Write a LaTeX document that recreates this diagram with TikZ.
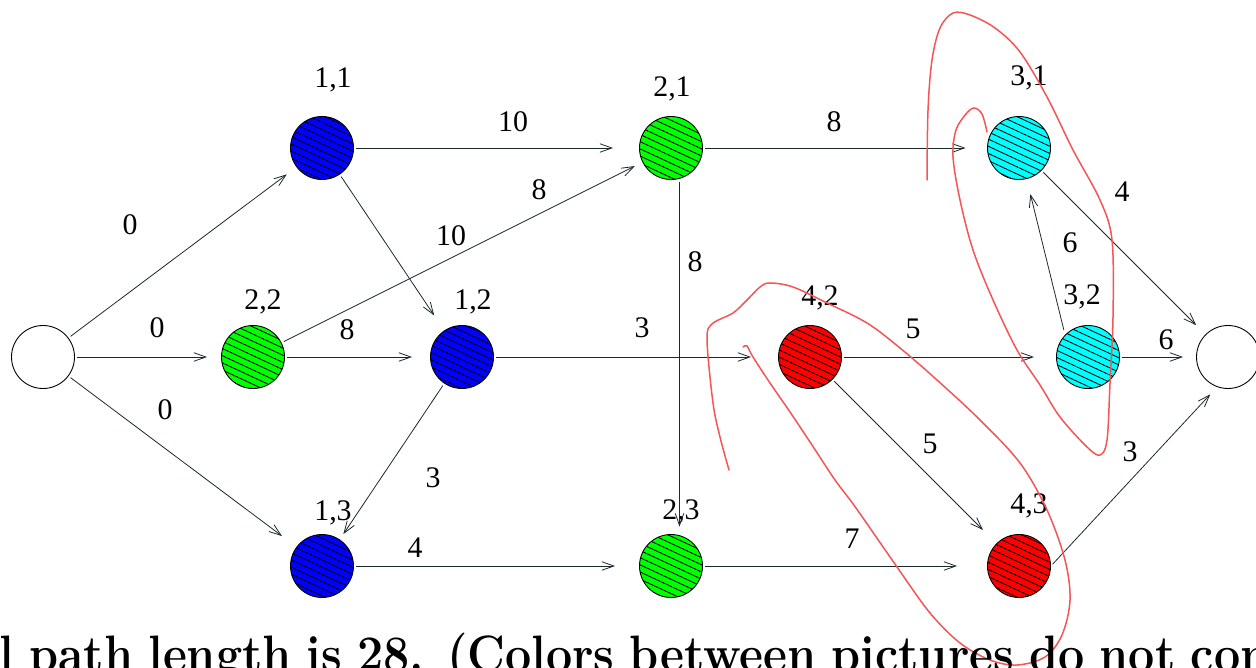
\documentclass[tikz,border=0pt]{standalone}
\usepackage{fontspec}
\newfontfamily\labelfont{Liberation Serif}
\usetikzlibrary{arrows.meta,patterns.meta}
\definecolor{fillblue}{RGB}{0,0,255}
\definecolor{fillgreen}{RGB}{0,255,0}
\definecolor{fillcyan}{RGB}{0,255,255}
\definecolor{fillred}{RGB}{255,0,0}
\definecolor{edgegray}{RGB}{25,40,40}
\definecolor{loopred}{RGB}{245,85,85}
\tikzset{
  vertex/.style   = {circle, draw, line width=0.5pt, inner sep=0pt, minimum size=12.6mm},
  hatched/.style  = {vertex, preaction={fill=#1},
                     pattern={Lines[angle=-25,distance=1.3mm,line width=0.5pt]}},
  arcline/.style  = {-{Straight Barb[length=2.4mm,width=1.7mm]}, line width=0.45pt,
                     draw=edgegray, shorten <=0.5mm},
  vlabel/.style   = {font=\labelfont\fontsize{17}{20}\selectfont, inner sep=0pt},
  loopline/.style = {draw=loopred, line width=0.3mm, line cap=round},
}

\begin{document}
\begin{tikzpicture}[x=0.2mm,y=-0.2mm]
  \useasboundingbox (0,0) rectangle (1256,668);

  % ---- vertices ----------------------------------------------------------
  \node[vertex] (s) at (43,357) {};
  \node[hatched=fillblue]  (n11) at (322,148) {};
  \node[hatched=fillgreen] (n22) at (253,357) {};
  \node[hatched=fillblue]  (n12) at (462,357) {};
  \node[hatched=fillblue]  (n13) at (322,566) {};
  \node[hatched=fillgreen] (n21) at (671,148) {};
  \node[hatched=fillgreen] (n23) at (671,566) {};
  \node[hatched=fillred]   (n42) at (810,357) {};
  \node[hatched=fillcyan]  (n31) at (1019,148) {};
  \node[hatched=fillcyan]  (n32) at (1088,357) {};
  \node[hatched=fillred]   (n43) at (1019,566) {};
  \node[vertex] (t) at (1228,357) {};

  % ---- vertex labels -----------------------------------------------------
  \node[vlabel] (l11) at (333,80)   {1,1};
  \node[vlabel] (l21) at (672,89)   {2,1};
  \node[vlabel] (l31) at (1029,78)  {3,1};
  \node[vlabel] (l22) at (263,302)  {2,2};
  \node[vlabel] (l12) at (473,302)  {1,2};
  \node[vlabel] (l42) at (820,298)  {4,2};
  \node[vlabel] (l32) at (1082,297) {3,2};
  \node[vlabel] (l13) at (333,513)  {1,3};
  \node[vlabel] (l23) at (681,512)  {2,3};
  \node[vlabel] (l43) at (1029,506) {4,3};

  % ---- arcs --------------------------------------------------------------
  \draw[arcline, shorten >=2.4mm] (s) -- (n11);
  \draw[arcline, shorten >=2.8mm] (s) -- (n22);
  \draw[arcline, shorten >=3.6mm] (s) -- (n13);
  \draw[arcline, shorten >=5.2mm] (n11) -- (n21);
  \draw[arcline, shorten >=3.6mm] (n11) -- (n12);
  \draw[arcline, shorten >=1.7mm] (n22) -- (n21);
  \draw[arcline, shorten >=3.6mm] (n22) -- (n12);
  \draw[arcline, shorten >=5.4mm] (n12) -- (n42);
  \draw[arcline, shorten >=1.3mm] (n12) -- (n13);
  \draw[arcline, shorten >=4.8mm] (n13) -- (n23);
  \draw[arcline, shorten >=1.5mm] ([xshift=1.7mm]n21.south) -- ([xshift=1.7mm]n23.north);
  \draw[arcline, shorten >=6mm]   (n23) -- (n43);
  \draw[arcline, shorten >=4.3mm] (n21) -- (n31);
  \draw[arcline, shorten >=4.4mm] (n42) -- (n32);
  \draw[arcline, shorten >=3.8mm] (n42) -- (n43);
  \draw[arcline, shorten <=1mm, shorten >=3.1mm] (n32.136) -- (n31);
  \draw[arcline, shorten >=2.6mm] (n31) -- (t);
  \draw[arcline, shorten >=2.6mm] (n32) -- (t);
  \draw[arcline, shorten >=2mm]   (n43.east) -- (t.250);

  % ---- arc weights -------------------------------------------------------
  \node[vlabel] (w1)  at (130,225)  {0};
  \node[vlabel] (w2)  at (157,328)  {0};
  \node[vlabel] (w3)  at (165,410)  {0};
  \node[vlabel] (w4)  at (513,122)  {10};
  \node[vlabel] (w5)  at (539,190)  {8};
  \node[vlabel] (w6)  at (451,236)  {10};
  \node[vlabel] (w7)  at (347,330)  {8};
  \node[vlabel] (w8)  at (642,328)  {3};
  \node[vlabel] (w9)  at (695,262)  {8};
  \node[vlabel] (w10) at (433,478)  {3};
  \node[vlabel] (w11) at (415,548)  {4};
  \node[vlabel] (w12) at (852,539)  {7};
  \node[vlabel] (w13) at (834,122)  {8};
  \node[vlabel] (w14) at (913,329)  {5};
  \node[vlabel] (w15) at (930,444)  {5};
  \node[vlabel] (w16) at (1122,192) {4};
  \node[vlabel] (w17) at (1070,243) {6};
  \node[vlabel] (w18) at (1166,340) {6};
  \node[vlabel] (w19) at (1130,452) {3};

  % ---- hand-drawn loops --------------------------------------------------
  \draw[loopline] plot[smooth, tension=0.55] coordinates {
    (927,180) (928,110) (932,60) (940,28) (953,13) (970,15) (995,28)
    (1020,52) (1047,97) (1073,150) (1100,200) (1112,240) (1113,317)
    (1110,383) (1107,440) (1100,455) (1087,447) (1060,417) (1040,385)
    (1017,350) (993,300) (973,250) (960,200) (953,157) (956,130)
    (966,114) (974,108) (982,114) (987,132)};
  \draw[loopline] plot[smooth, tension=0.55] coordinates {
    (729,470) (720,437) (713,403) (707,340) (712,324) (733,313)
    (747,300) (760,287) (770,283) (793,287) (827,303) (867,323)
    (900,348) (937,380) (980,420) (1020,463) (1047,510) (1065,560)
    (1070,600) (1062,635) (1045,657) (1017,665) (990,660) (960,643)
    (930,613) (897,567) (856,508) (835,480) (812,445) (790,412)
    (770,383) (753,357) (747,346) (743,347)};

  % ---- caption, cut off by the page --------------------------------------
  \node[anchor=base west, inner sep=0pt, font=\fontsize{26.5}{32}\selectfont\bfseries]
    (caption) at (-1,671)
    {\scalebox{1}[1.1]{\makebox[254mm][s]{l path length is 28. (Colors between pictures do not con}}};
\end{tikzpicture}
\end{document}
